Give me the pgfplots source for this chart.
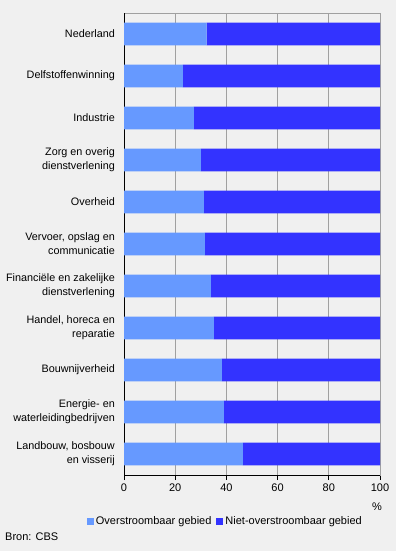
\documentclass[border=0pt]{standalone}
\usepackage{fontspec}
\setmainfont{Liberation Sans}
\usepackage{pgfplots}
\pgfplotsset{compat=1.18}
\definecolor{bg}{HTML}{F0F0F0}
\definecolor{lightb}{HTML}{6699FF}
\definecolor{darkb}{HTML}{3333FF}
\definecolor{gridc}{HTML}{A0A0A0}
\begin{document}
\begin{tikzpicture}
\fill[bg] (0bp,0bp) rectangle (396bp,551bp);
\begin{axis}[
  at={(124bp,76bp)}, anchor=south west,
  width=256bp, height=462bp, scale only axis,
  xbar stacked, bar width=22.7bp,
  xmin=0, xmax=100, ymin=-0.5, ymax=10.5,
  y dir=reverse,
  xtick={0,20,40,60,80,100},
  ytick={0,...,10},
  yticklabels={Nederland,Delfstoffenwinning,Industrie,{Zorg en overig\\dienstverlening},Overheid,{Vervoer, opslag en\\communicatie},{Financiële en zakelijke\\dienstverlening},{Handel, horeca en\\reparatie},Bouwnijverheid,{Energie- en\\waterleidingbedrijven},{Landbouw, bosbouw\\en visserij}},
  yticklabel style={align=right, inner sep=0pt, xshift=-9bp, font=\fontsize{10.8bp}{14bp}\selectfont},
  xticklabel style={font=\fontsize{11bp}{13bp}\selectfont},
  /pgf/number format/assume math mode=true,
  ytick style={draw=none},
  xtick pos=bottom, xtick align=outside, major tick length=5bp,
  xtick style={black, line width=0.8bp},
  xmajorgrids, grid style={gridc, line width=0.8bp},
  axis line style={gridc, line width=0.8bp},
  legend style={at={(0.396,-0.0996)}, anchor=center, draw=none, fill=none,
    legend columns=2, font=\fontsize{11bp}{13bp}\selectfont,
    /tikz/every even column/.append style={column sep=3bp}},
  legend image code/.code={\fill[#1] (0bp,-3.5bp) rectangle (7bp,3.5bp);},
]
\addplot[fill=lightb, draw=none] coordinates {(32.3,0) (23.0,1) (27.3,2) (30.0,3) (31.2,4) (31.6,5) (33.9,6) (35.1,7) (38.2,8) (39.0,9) (46.4,10)};
\addplot[fill=darkb, draw=none] coordinates {(67.7,0) (77.0,1) (72.7,2) (70.0,3) (68.8,4) (68.4,5) (66.1,6) (64.9,7) (61.8,8) (61.0,9) (53.6,10)};
\legend{Overstroombaar gebied,Niet-overstroombaar gebied}
\draw[black, line width=0.8bp] (rel axis cs:0,0) -- (rel axis cs:0,1);
\draw[black, line width=0.8bp] (rel axis cs:0,0) -- (rel axis cs:1,0);
\end{axis}
\node[anchor=center, font=\fontsize{11bp}{13bp}\selectfont] at (377bp,44bp) {\%};
\node[anchor=west, inner sep=0pt, font=\fontsize{11bp}{13bp}\selectfont] at (5bp,14bp) {Bron: CBS};
\end{tikzpicture}
\end{document}
